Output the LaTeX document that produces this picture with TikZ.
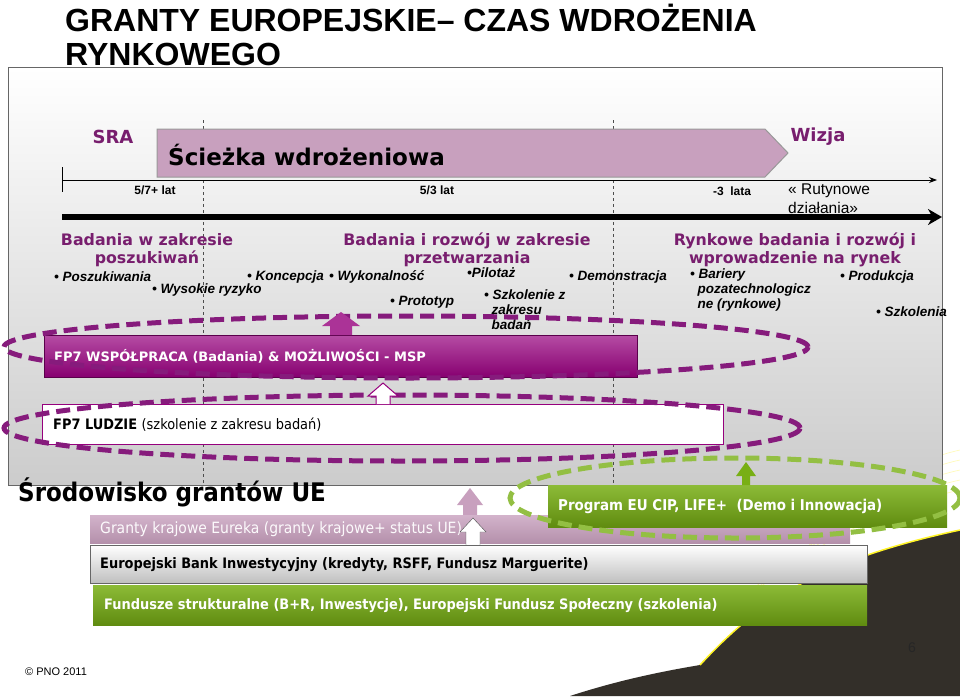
\documentclass[tikz,border=0pt]{standalone}
\usepackage{fontspec}
\setmainfont{Liberation Sans}
\newfontfamily\vfont{DejaVu Sans}
\newfontfamily\cfont{DejaVu Sans Condensed}
\usetikzlibrary{arrows.meta,shapes.geometric}
\definecolor{plum}{RGB}{120,30,110}
\definecolor{mag}{RGB}{150,0,125}
\definecolor{lgreen}{RGB}{120,175,20}
\definecolor{mauve}{RGB}{200,160,190}
\tikzset{
 head/.style={font=\vfont\bfseries\fontsize{15.8}{17.5}\selectfont,text=plum,align=center,inner sep=0},
 bul/.style={font=\itshape\bfseries\fontsize{13.5}{15}\selectfont,anchor=west,inner sep=0,align=left},
 lab/.style={font=\bfseries\fontsize{12}{13}\selectfont,inner sep=0},
 btxt/.style={font=\cfont\bfseries\fontsize{14.4}{15}\selectfont,anchor=west,inner sep=0},
 dsh/.style={line width=5pt,dash pattern=on 14pt off 7pt},
 vdash/.style={dashed,black!70,line width=0.8pt},
}
\begin{document}
\begin{tikzpicture}[x=1pt,y=-1pt]
\useasboundingbox (0,0) rectangle (960,696);
\fill[white] (0,0) rectangle (960,696);
% swoosh
\fill[black!85!olive] (570,696) .. controls (680,660) and (800,650) .. (960,640) -- (960,696) -- cycle;
\fill[black!85!olive] (700,665) .. controls (760,600) and (820,560) .. (960,530) -- (960,660) -- cycle;
\draw[yellow!85!white,line width=1.5pt] (700,665) .. controls (760,600) and (820,560) .. (960,530);
\foreach \d in {10,20,30,40,50}
  \draw[yellow!30!white,line width=0.6pt] (720+\d,620-\d) .. controls (790+\d,560-\d/2) and (870,520-\d) .. (960,500-\d);
% title
\node[anchor=west,inner sep=0,font=\fontsize{32}{34}\selectfont\bfseries,align=left] (title) at (65,35) {GRANTY EUROPEJSKIE– CZAS WDROŻENIA\\RYNKOWEGO};
% panel
\shade[top color=white,bottom color=black!20,draw=black!60] (8,67) rectangle (942,485);
% dashed verticals
\draw[vdash] (203,120) -- (203,485);
\draw[vdash] (613,120) -- (613,485);
% pentagon arrow
\draw[draw=gray!80,line width=1pt,fill=mauve] (157,129) -- (765,129) -- (788,153) -- (765,177) -- (157,177) -- cycle;
\node[anchor=west,inner sep=0,font=\vfont\bfseries\fontsize{23}{24}\selectfont] (sciezka) at (168,155) {Ścieżka wdrożeniowa};
\node[font=\vfont\bfseries\fontsize{18}{19}\selectfont,text=plum,inner sep=0] (sra) at (113,137) {SRA};
\node[font=\vfont\bfseries\fontsize{18}{19}\selectfont,text=plum,inner sep=0] (wizja) at (818,137) {Wizja};
% timelines
\coordinate (t0) at (62,180); \coordinate (t1) at (937,180);
\draw[-{Stealth[length=8pt]},line width=1pt] (t0) -- (t1);
\draw[line width=1pt] (62,167) -- (62,192);
\coordinate (T0) at (62,217); \coordinate (T1) at (942,217);
\draw[-{Stealth[length=14pt,width=16pt]},line width=6pt] (T0) -- (T1);
\node[lab] (l1) at (155,190) {5/7+ lat};
\node[lab] (l2) at (437,190) {5/3 lat};
\node[lab] (l3) at (732,191) {-3\ \ lata};
\node[anchor=north west,inner sep=0,font=\fontsize{15.5}{19}\selectfont,align=left] (rut) at (788,184) {« Rutynowe\\działania»};
% headings
\node[head] (h1) at (147,250) {Badania w zakresie\\poszukiwań};
\node[head] (h2) at (467,250) {Badania i rozwój w zakresie\\przetwarzania};
\node[head] (h3) at (795,250) {Rynkowe badania i rozwój i\\wprowadzenie na rynek};
% bullets
\node[bul] at (54,277) {• Poszukiwania};
\node[bul] at (152,290) {• Wysokie ryzyko};
\node[bul] at (247,277) {• Koncepcja};
\node[bul] at (329,277) {• Wykonalność};
\node[bul] at (467,273) {•Pilotaż};
\node[bul] at (569,277) {• Demonstracja};
\node[bul] at (390,302) {• Prototyp};
\node[bul,anchor=north west] at (484,290) {• Szkolenie z\\\ \ zakresu\\\ \ badań};
\node[bul,anchor=north west] at (690,269) {• Bariery\\\ \ pozatechnologicz\\\ \ ne (rynkowe)};
\node[bul] at (840,277) {• Produkcja};
\node[bul] at (876,312) {• Szkolenia};
% FP7 wspolpraca
\shade[top color=mag!70!white,bottom color=mag!90!black,draw=mag!60!black] (44,335) rectangle (637,377);
\node[btxt,font=\vfont\bfseries\fontsize{13}{14}\selectfont,text=white] (fp7w) at (54,356) {FP7 WSPÓŁPRACA (Badania) \& MOŻLIWOŚCI - MSP};
\draw[plum!90!magenta,dsh] (406,347) ellipse (402pt and 31pt);
\fill[mag!80!white] (330,335) -- (330,326) -- (322,326) -- (341,312) -- (360,326) -- (352,326) -- (352,335) -- cycle;
% FP7 ludzie
\draw[fill=white,draw=mag,line width=1pt] (42,404) rectangle (723,444);
\node[btxt] (fp7l) at (53,425) {FP7 LUDZIE \textmd{(szkolenie z zakresu badań)}};
\draw[plum!90!magenta,dsh] (402,428) ellipse (398pt and 33pt);
\draw[fill=white,draw=mag,line width=1pt] (376,404) -- (376,396) -- (368,396) -- (383,383) -- (398,396) -- (390,396) -- (390,404);
% grants environment
\node[anchor=west,inner sep=0,font=\cfont\bfseries\fontsize{25.6}{27}\selectfont] (srod) at (18,492) {Środowisko grantów UE};
\fill[mauve] (463,515) -- (463,505) -- (457,505) -- (470,488) -- (483,505) -- (477,505) -- (477,515) -- cycle;
\shade[top color=mauve!80!white,bottom color=mauve!90!black] (90,515) rectangle (850,543);
\node[btxt,text=white!95!mauve,font=\cfont\fontsize{15.5}{16}\selectfont] (gk) at (100,529) {Granty krajowe Eureka (granty krajowe+ status UE)};
\draw[fill=white,draw=black!70] (466,545) -- (466,532) -- (460,532) -- (473,518) -- (486,532) -- (480,532) -- (480,545);
\shade[top color=white,bottom color=black!25,draw=black!60] (90,545) rectangle (867,583);
\node[btxt] (ebi) at (100,565) {Europejski Bank Inwestycyjny (kredyty, RSFF, Fundusz Marguerite)};
\shade[top color=lgreen!85!white,bottom color=lgreen!80!black] (93,585) rectangle (867,625);
\node[btxt,text=white] (fs) at (104,606) {Fundusze strukturalne (B+R, Inwestycje), Europejski Fundusz Społeczny (szkolenia)};
% CIP
\shade[top color=lgreen!85!white,bottom color=lgreen!80!black] (548,485) rectangle (947,527);
\node[btxt,text=white,font=\cfont\bfseries\fontsize{14.9}{15}\selectfont] (cip) at (558,506) {Program EU CIP, LIFE+\ \ (Demo i Innowacja)};
\draw[lgreen!80!white,dsh] (735,498) ellipse (225pt and 40pt);
\fill[lgreen] (742,485) -- (742,476) -- (736,476) -- (746,462) -- (756,476) -- (750,476) -- (750,485) -- cycle;
% footer
\node[font=\fontsize{14}{15}\selectfont,text=black!85,inner sep=0] (pg) at (912,648) {6};
\node[anchor=west,inner sep=0,font=\fontsize{11}{12}\selectfont] (pno) at (25,672) {© PNO 2011};
\end{tikzpicture}
\end{document}
